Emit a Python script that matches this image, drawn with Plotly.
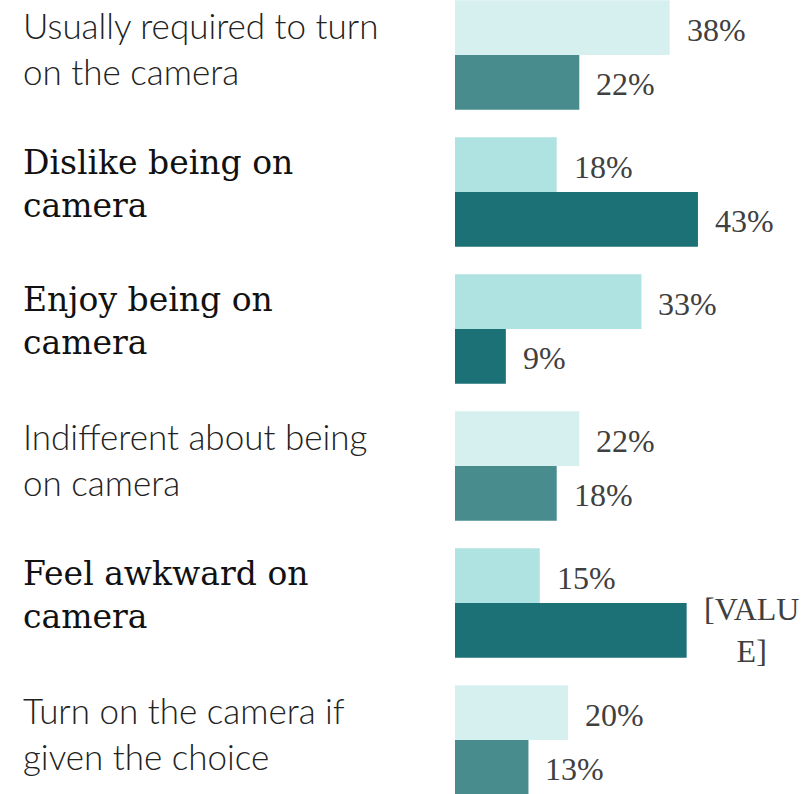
import plotly.graph_objects as go

# Survey categories (top to bottom) and which ones are emphasised
categories = [
    "Usually required to turn<br>on the camera",
    "Dislike being on<br>camera",
    "Enjoy being on<br>camera",
    "Indifferent about being<br>on camera",
    "Feel awkward on<br>camera",
    "Turn on the camera if<br>given the choice",
]
emphasis = [False, True, True, False, True, False]

# Two respondent groups (percent)
series_a = [38, 18, 33, 22, 15, 20]
series_b = [22, 43, 9, 18, 41, 13]
labels_a = ["38%", "18%", "33%", "22%", "15%", "20%"]
labels_b = ["22%", "43%", "9%", "18%", "[VALU<br>E]", "13%"]

W, H = 808, 794
LEFT = 455
PX_PER_PCT = 5.65
PX_PER_CAT = 137.0
TOP_OFFSET = 55.0  # pixel position of the first category centre

light_a, light_b = "#d6f0f0", "#afe3e1"
dark_a, dark_b = "#488c8e", "#1b7176"

pos = list(range(len(categories)))
col_a = [light_b if e else light_a for e in emphasis]
col_b = [dark_b if e else dark_a for e in emphasis]

fig = go.Figure()
fig.add_trace(go.Bar(name="Series 1", y=pos, x=series_a, orientation="h",
                     marker=dict(color=col_a, line=dict(width=0)), hoverinfo="skip"))
fig.add_trace(go.Bar(name="Series 2", y=pos, x=series_b, orientation="h",
                     marker=dict(color=col_b, line=dict(width=0)), hoverinfo="skip"))

serif = "Liberation Serif, serif"
serif_label = "DejaVu Serif, serif"
sans_light = "Lato, Open Sans, sans-serif"
value_font = dict(family=serif, size=32, color="#404040")

# value labels to the right of each bar
ann = []
for i in pos:
    ann.append(dict(x=series_a[i], y=i - 0.2, xref="x", yref="y", text=labels_a[i],
                    showarrow=False, xanchor="left", xshift=15, yshift=-2,
                    font=value_font))
    if "<br>" in labels_b[i]:
        ann.append(dict(x=series_b[i], y=i + 0.2, xref="x", yref="y", text=labels_b[i],
                        showarrow=False, xanchor="left", xshift=15, align="center",
                        font=value_font))
    else:
        ann.append(dict(x=series_b[i], y=i + 0.2, xref="x", yref="y", text=labels_b[i],
                        showarrow=False, xanchor="left", xshift=15, yshift=-2,
                        font=value_font))
    # category label on the left
    if emphasis[i]:
        f = dict(family=serif_label, size=33, color="#111111")
        shift = 8
    else:
        f = dict(family=sans_light, size=35, color="#222222", weight=300)
        shift = 7
    ann.append(dict(x=(21 - LEFT) / (W - LEFT), y=i, xref="paper", yref="y",
                    text=categories[i], showarrow=False, xanchor="left", align="left",
                    yshift=shift, font=f))

y_top = -TOP_OFFSET / PX_PER_CAT
y_bot = y_top + H / PX_PER_CAT

fig.update_layout(
    width=W, height=H,
    margin=dict(l=LEFT, r=0, t=0, b=0),
    barmode="group", bargap=0.2, bargroupgap=0,
    showlegend=False,
    plot_bgcolor="white", paper_bgcolor="white",
    xaxis=dict(range=[0, (W - LEFT) / PX_PER_PCT], visible=False, fixedrange=True),
    yaxis=dict(range=[y_bot, y_top], visible=False, fixedrange=True),
    annotations=ann,
)

fig.write_html("out.html")
